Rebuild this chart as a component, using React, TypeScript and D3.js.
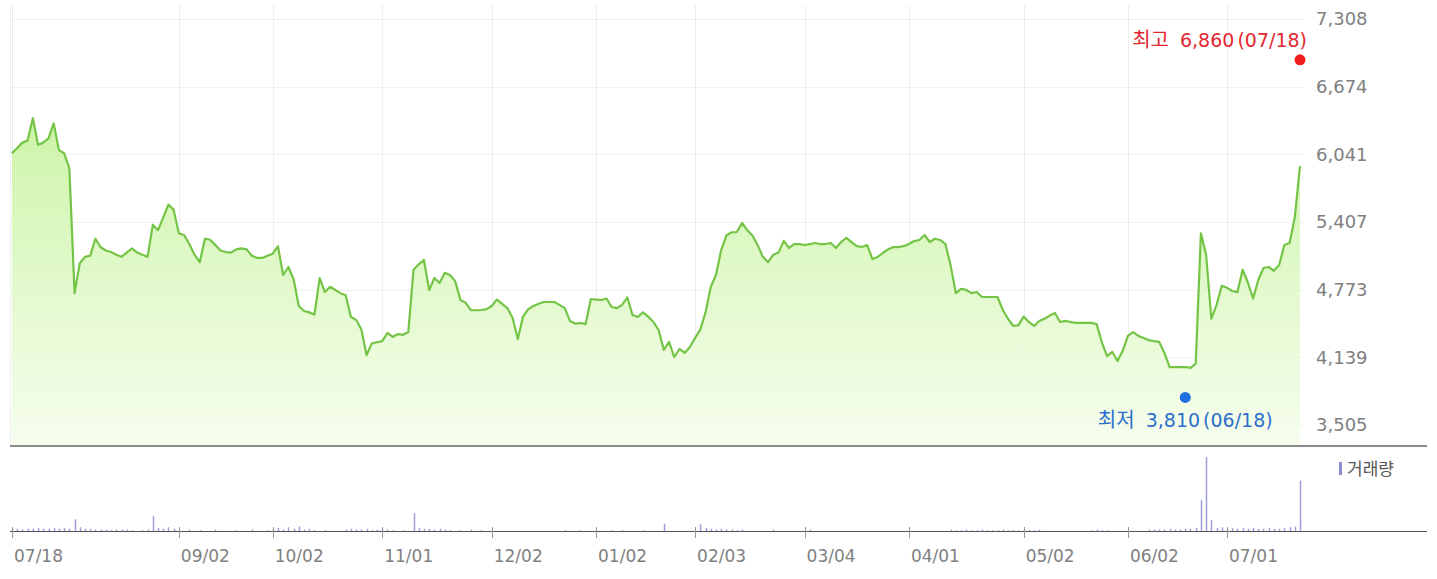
import React from "react";
import * as d3 from "d3";

// closing price per trading day, 07/18 .. 07/18
const prices = [
  6050, 6100, 6150, 6170, 6380, 6130, 6150, 6190, 6330, 6080,
  6050, 5910, 4740, 5020, 5080, 5090, 5250, 5170, 5140, 5125,
  5100, 5080, 5120, 5160, 5120, 5100, 5080, 5380, 5330, 5450,
  5570, 5520, 5300, 5285, 5200, 5100, 5030, 5250, 5240, 5190,
  5140, 5125, 5120, 5150, 5160, 5150, 5090, 5070, 5070, 5090,
  5110, 5180, 4910, 4985, 4870, 4620, 4573, 4560, 4540, 4880,
  4750, 4800, 4770, 4740, 4720, 4517, 4490, 4400, 4160, 4270,
  4280, 4290, 4367, 4330, 4357, 4350, 4376, 4960, 5010, 5051,
  4770, 4882, 4835, 4930, 4910, 4850, 4676, 4650, 4580, 4580,
  4582, 4590, 4620, 4680, 4640, 4600, 4508, 4310, 4520, 4590,
  4620, 4640, 4657, 4657, 4657, 4630, 4600, 4480, 4455, 4460,
  4450, 4685, 4680, 4676, 4690, 4610, 4600, 4630, 4700, 4535,
  4517, 4560, 4520, 4470, 4395, 4208, 4283, 4142, 4217, 4180,
  4236, 4320, 4400, 4560, 4798, 4910, 5144, 5280, 5310, 5313,
  5397, 5330, 5280, 5190, 5080, 5030, 5100, 5120, 5230, 5163,
  5200, 5200, 5191, 5200, 5210, 5200, 5200, 5210, 5163, 5219,
  5257, 5219, 5180, 5172, 5190, 5060, 5079, 5116, 5150, 5172,
  5172, 5180, 5200, 5228, 5238, 5285, 5219, 5250, 5238, 5200,
  5000, 4740, 4780, 4770, 4740, 4751, 4704, 4704, 4704, 4704,
  4582, 4500, 4433, 4440, 4520, 4470, 4433, 4479, 4500, 4530,
  4554, 4470, 4480, 4470, 4461, 4461, 4461, 4461, 4450, 4280,
  4150, 4189, 4104, 4200, 4340, 4376, 4340, 4320, 4300, 4290,
  4283, 4180, 4048, 4048, 4048, 4048, 4040, 4080, 5300, 5100,
  4500, 4630, 4810, 4790, 4760, 4750, 4960, 4840, 4690, 4863,
  4976, 4985, 4950, 5004, 5191, 5210, 5450, 5930,
];

// relative volume per trading day
const volumes = [
  3, 3, 2, 3, 3, 4, 3, 3, 4, 3, 4, 3, 16, 5, 3, 3, 2, 2, 2, 1,
  2, 2, 2, 1, 0, 1, 2, 20, 4, 3, 5, 3, 2, 0, 2, 0, 1, 0, 0, 2,
  0, 0, 0, 1, 0, 0, 2, 0, 0, 1, 3, 4, 2, 5, 3, 6, 2, 3, 1, 0,
  1, 0, 0, 0, 2, 3, 2, 2, 3, 1, 2, 3, 2, 1, 0, 1, 0, 24, 4, 3,
  3, 2, 3, 2, 1, 0, 1, 0, 2, 0, 1, 0, 0, 0, 0, 0, 0, 0, 0, 0,
  0, 0, 0, 0, 0, 0, 1, 0, 0, 1, 0, 0, 1, 0, 0, 1, 0, 1, 0, 0,
  0, 1, 0, 0, 0, 10, 0, 0, 0, 0, 0, 0, 9, 4, 3, 2, 3, 2, 2, 1,
  2, 0, 0, 0, 0, 0, 2, 0, 0, 0, 0, 0, 0, 2, 0, 0, 0, 0, 0, 0,
  0, 0, 0, 0, 0, 0, 0, 0, 0, 0, 0, 0, 0, 0, 0, 0, 0, 0, 0, 0,
  2, 1, 1, 2, 1, 1, 2, 1, 1, 1, 2, 1, 1, 1, 2, 1, 1, 2, 0, 0,
  0, 0, 0, 0, 0, 0, 0, 1, 2, 1, 1, 0, 0, 0, 0, 0, 0, 0, 2, 2,
  2, 2, 3, 2, 2, 3, 3, 4, 42, 100, 15, 4, 5, 3, 4, 3, 4, 3, 4, 3,
  3, 4, 3, 3, 4, 5, 6, 68,
];

const xTickDays = [0, 32, 50, 71, 92, 112, 131, 152, 172, 194, 214, 233];
const xTickLabels = ["07/18", "09/02", "10/02", "11/01", "12/02", "01/02", "02/03", "03/04", "04/01", "05/02", "06/02", "07/01"];
const yTicks = [3505, 4139, 4773, 5407, 6041, 6674, 7308];

const highPoint = { day: 247, value: 6860, date: "07/18", name: "최고" };
const lowPoint = { day: 225, value: 3810, date: "06/18", name: "최저" };

const W = 1437;
const H = 579;
const FONT = '"DejaVu Sans", "Noto Sans CJK KR", sans-serif';

export default function App() {
  const x = d3.scaleLinear().domain([0, prices.length - 1]).range([12, 1300]);
  const y = d3.scaleLinear().domain([yTicks[0], yTicks[yTicks.length - 1]]).range([425, 19]);
  const v = d3.scaleLinear().domain([0, d3.max(volumes) as number]).range([531, 457]);
  const fmt = d3.format(",");

  const area = d3
    .area<number>()
    .x((d, i) => x(i))
    .y0(445)
    .y1((d) => y(d));
  const line = d3
    .line<number>()
    .x((d, i) => x(i))
    .y((d) => y(d));

  const hx = x(highPoint.day);
  const hy = y(highPoint.value) - 7;
  const lx = x(lowPoint.day);
  const ly = y(lowPoint.value) + 5;

  return (
    <svg width={W} height={H} style={{ position: "absolute", left: 0, top: 0, background: "#fff" }} fontFamily={FONT}>
      <defs>
        <linearGradient id="fillG" gradientUnits="userSpaceOnUse" x1="0" y1="19" x2="0" y2="445">
          <stop offset="0" stopColor="#b8ee86" />
          <stop offset="0.35" stopColor="#d4f6b4" />
          <stop offset="1" stopColor="#f6fdee" />
        </linearGradient>
      </defs>

      {/* grid */}
      <line x1={10.5} x2={10.5} y1={5} y2={445} stroke="#f0f0f0" />
      {xTickDays.map((d, i) => (
        <line key={"vg" + i} x1={Math.round(x(d)) + 0.5} x2={Math.round(x(d)) + 0.5} y1={5} y2={445} stroke="#eeeeee" />
      ))}
      {yTicks.map((t, i) => (
        <line key={"hg" + i} x1={10} x2={1304} y1={Math.round(y(t)) + 0.5} y2={Math.round(y(t)) + 0.5} stroke="#f0f0f0" />
      ))}

      {/* price */}
      <path d={area(prices) || ""} fill="url(#fillG)" />
      <path d={line(prices) || ""} fill="none" stroke="#74c446" strokeWidth={2.2} strokeLinejoin="round" />

      {/* y labels */}
      {yTicks.map((t, i) => (
        <text key={"yl" + i} x={1316} y={y(t)} dy="0.36em" fontSize={18} fill="#808080">
          {fmt(t)}
        </text>
      ))}

      {/* high / low */}
      <circle cx={hx} cy={hy} r={5.5} fill="#ee1c1c" />
      <text x={hx + 7} y={hy - 20} dy="0.36em" textAnchor="end" fontSize={19} fill="#e3262f">
        <tspan fontSize={20}>{highPoint.name}</tspan>
        <tspan dx={11}>{fmt(highPoint.value)}</tspan>
        <tspan dx={3}>({highPoint.date})</tspan>
      </text>
      <circle cx={lx} cy={ly} r={5.5} fill="#1f6fe0" />
      <text x={lx} y={ly + 23} dy="0.36em" textAnchor="middle" fontSize={19} fill="#2d6fcc">
        <tspan fontSize={20}>{lowPoint.name}</tspan>
        <tspan dx={11}>{fmt(lowPoint.value)}</tspan>
        <tspan dx={3}>({lowPoint.date})</tspan>
      </text>

      {/* divider */}
      <line x1={10} x2={1427} y1={446} y2={446} stroke="#8a8a8a" strokeWidth={2} />

      {/* volume */}
      {volumes.map((val, i) =>
        val > 0 ? (
          <line key={"v" + i} x1={Math.round(x(i)) + 0.5} x2={Math.round(x(i)) + 0.5} y1={531} y2={v(val)} stroke="#9d9de0" strokeWidth={1.5} />
        ) : null
      )}
      <line x1={10} x2={1427} y1={531.5} y2={531.5} stroke="#555" />
      {xTickDays.map((d, i) => (
        <g key={"xt" + i}>
          <line x1={Math.round(x(d)) + 0.5} x2={Math.round(x(d)) + 0.5} y1={527} y2={538} stroke="#999" />
          <text x={x(d) + 2} y={556} dy="0.36em" fontSize={17} fill="#808080">
            {xTickLabels[i]}
          </text>
        </g>
      ))}

      {/* legend */}
      <rect x={1339} y={462} width={3} height={13} fill="#8c8cd2" />
      <text x={1347} y={469} dy="0.36em" fontSize={17} fill="#555">
        거래량
      </text>
    </svg>
  );
}
